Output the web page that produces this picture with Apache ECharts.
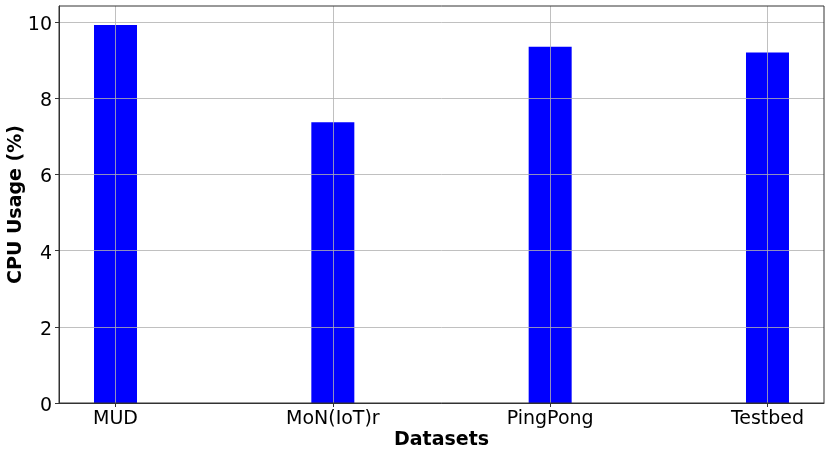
<!DOCTYPE html>
<html>
<head>
<meta charset="utf-8">
<script src="https://cdn.jsdelivr.net/npm/echarts@6/dist/echarts.min.js"></script>
<style>html,body{margin:0;padding:0;background:#fff}#c{width:830px;height:457px}</style>
</head>
<body>
<div id="c"></div>
<script>
const categories = ["MUD", "MoN(IoT)r", "PingPong", "Testbed"];
const cpuUsage = [9.92, 7.37, 9.35, 9.20];
const yTicks = [0, 2, 4, 6, 8, 10];

const chart = echarts.init(document.getElementById('c'), null, {renderer: 'canvas'});
const FONT = 'DejaVu Sans';
const positions = categories.map((_, i) => i);
chart.setOption({
  animation: false,
  backgroundColor: '#fff',
  grid: {left: 59, right: 6, top: 6, bottom: 54, containLabel: false, outerBoundsMode: 'none',
    show: true, borderColor: '#333', borderWidth: 1, z: 4},
  xAxis: {
    type: 'value', min: -0.26, max: 3.26, z: 3,
    name: 'Datasets', nameLocation: 'middle', nameGap: 28, nameMoveOverlap: false,
    nameTextStyle: {fontFamily: FONT, fontWeight: 'bold', fontSize: 19, color: '#000'},
    axisLine: {show: true, onZero: false, lineStyle: {color: '#333', width: 1}},
    axisTick: {show: true, length: 4, customValues: positions, lineStyle: {color: '#333'}},
    axisLabel: {customValues: positions, fontFamily: FONT, fontSize: 19, color: '#000', margin: 7,
      formatter: v => categories[Math.round(v)]},
    splitLine: {show: true, lineStyle: {color: '#b0b0b0', width: 1, opacity: 0.8}}
  },
  yAxis: {
    type: 'value', min: 0, max: 10.42, z: 3,
    name: 'CPU Usage (%)', nameLocation: 'middle', nameGap: 33, nameMoveOverlap: false,
    nameTextStyle: {fontFamily: FONT, fontWeight: 'bold', fontSize: 19, color: '#000'},
    axisLine: {show: true, onZero: false, lineStyle: {color: '#333', width: 1}},
    axisTick: {show: true, length: 4, customValues: yTicks, lineStyle: {color: '#333'}},
    axisLabel: {customValues: yTicks, margin: 7,
      formatter: v => '{a|' + v + '}',
      rich: {a: {fontFamily: FONT, fontSize: 19, color: '#000', padding: [6, 0, 0, 0]}}},
    splitLine: {show: true, lineStyle: {color: '#b0b0b0', width: 1, opacity: 0.8}}
  },
  series: [{
    type: 'bar',
    barWidth: 43,
    itemStyle: {color: '#0000ff'},
    data: positions.map((p, i) => [p, cpuUsage[i]])
  }]
});
</script>
</body>
</html>
